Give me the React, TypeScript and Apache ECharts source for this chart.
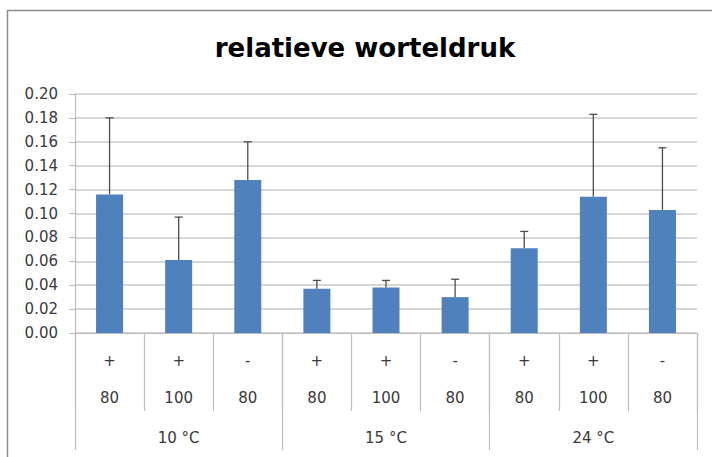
import React, { useEffect, useRef } from "react";
import * as echarts from "echarts";

// Treatment labels per bar (three rows under the axis)
const signs = ["+", "+", "-", "+", "+", "-", "+", "+", "-"];
const doses = ["80", "100", "80", "80", "100", "80", "80", "100", "80"];
const temperatures = ["10 °C", "15 °C", "24 °C"];

// Mean relative root pressure and the upper error amount for each bar
const means = [0.116, 0.061, 0.128, 0.037, 0.038, 0.030, 0.071, 0.114, 0.103];
const errors = [0.064, 0.036, 0.032, 0.007, 0.006, 0.015, 0.014, 0.069, 0.052];

const yMin = 0;
const yMax = 0.2;
const yStep = 0.02;

const FONT = "DejaVu Sans";
const TEXT = "#3a3a3a";
const GRID = "#c8c8c8";
const AXIS = "#bdbdbd";

export default function App() {
  const ref = useRef<HTMLDivElement>(null);

  useEffect(() => {
    if (!ref.current) return;
    const chart = echarts.init(ref.current, undefined, { renderer: "svg" });

    const errorData = means.map((m, i) => [i, m + errors[i], m]);

    chart.setOption({
      animation: false,
      backgroundColor: "#ffffff",
      grid: { left: 75, right: 15, top: 94, bottom: 124, containLabel: false },
      graphic: [
        {
          type: "rect",
          shape: { x: 7.5, y: 10.5, width: 900, height: 700 },
          style: { fill: "none", stroke: "#8c8c8c", lineWidth: 1.5 },
          silent: true,
        },
        {
          type: "text",
          x: 365,
          y: 48,
          style: {
            text: "relatieve worteldruk",
            font: `bold 26px "${FONT}"`,
            fill: "#000000",
            textAlign: "center",
            textVerticalAlign: "middle",
          },
        },
      ],
      xAxis: [
        {
          type: "category",
          data: signs,
          position: "bottom",
          axisLine: { show: true, lineStyle: { color: AXIS, width: 1.2 } },
          axisTick: { show: true, interval: 0, length: 78, lineStyle: { color: AXIS, width: 1.2 } },
          axisLabel: { interval: 0, margin: 20, color: TEXT, fontFamily: FONT, fontSize: 15 },
          splitLine: { show: false },
        },
        {
          type: "category",
          data: doses,
          position: "bottom",
          axisLine: { show: false },
          axisTick: { show: false },
          axisLabel: { interval: 0, margin: 57, color: TEXT, fontFamily: FONT, fontSize: 15 },
        },
        {
          type: "category",
          data: temperatures,
          position: "bottom",
          axisLine: { show: false },
          axisTick: { show: true, interval: 0, length: 117, lineStyle: { color: AXIS, width: 1.2 } },
          axisLabel: { interval: 0, margin: 97, color: TEXT, fontFamily: FONT, fontSize: 15 },
        },
      ],
      yAxis: {
        type: "value",
        min: yMin,
        max: yMax,
        interval: yStep,
        axisLine: { show: true, lineStyle: { color: AXIS, width: 1.2 } },
        axisTick: { show: true, length: 6, lineStyle: { color: AXIS, width: 1.2 } },
        axisLabel: {
          margin: 17,
          color: TEXT,
          fontFamily: FONT,
          fontSize: 15,
          formatter: (v: number) => v.toFixed(2),
        },
        splitLine: { show: true, lineStyle: { color: GRID, width: 1.5 } },
      },
      series: [
        {
          type: "bar",
          xAxisIndex: 0,
          data: means,
          barWidth: 27,
          itemStyle: { color: "#4f81bd" },
          z: 2,
        },
        {
          type: "custom",
          xAxisIndex: 0,
          data: errorData,
          z: 3,
          renderItem: (params: any, api: any) => {
            const i = api.value(0);
            const top = api.coord([i, api.value(1)]);
            const base = api.coord([i, api.value(2)]);
            const half = 4;
            const stroke = { stroke: "#4d4d4d", lineWidth: 1.3 };
            return {
              type: "group",
              children: [
                { type: "line", shape: { x1: base[0], y1: base[1], x2: top[0], y2: top[1] }, style: stroke },
                { type: "line", shape: { x1: top[0] - half, y1: top[1], x2: top[0] + half, y2: top[1] }, style: stroke },
              ],
            };
          },
        },
      ],
    });

    return () => chart.dispose();
  }, []);

  return (
    <div
      ref={ref}
      style={{ position: "fixed", left: 0, top: 0, width: 712, height: 457 }}
    />
  );
}
